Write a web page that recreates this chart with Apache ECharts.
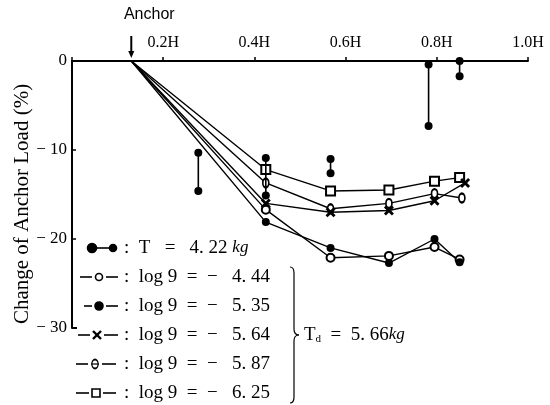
<!DOCTYPE html>
<html><head><meta charset="utf-8">
<script src="https://cdn.jsdelivr.net/npm/echarts@6/dist/echarts.min.js"></script>
<style>html,body{margin:0;padding:0;background:#fff}#c{width:550px;height:405px}</style>
</head><body><div id="c"></div>
<script>
// ---- data ----
const anchorH = 0.13;
const xTickLabels = ['0.2H', '0.4H', '0.6H', '0.8H', '1.0H'];
const yTickLabels = ['0', '− 10', '− 20', '− 30'];
const colH    = [0.425, 0.567, 0.695, 0.795, 0.85];
const colH564 = [0.425, 0.567, 0.695, 0.795, 0.862];
const colH587 = [0.425, 0.567, 0.695, 0.795, 0.855];
const val444 = [-16.7, -22.1, -21.9, -20.9, -22.3];
const val535 = [-18.1, -21.0, -22.7, -20.0, -22.6];
const val564 = [-16.0, -17.0, -16.8, -15.7, -13.7];
const val587 = [-13.7, -16.6, -16.0, -14.9, -15.4];
const val625 = [-12.2, -14.6, -14.5, -13.5, -13.1];
const tH      = [0.277, 0.425, 0.567, 0.782, 0.85];
const tTop    = [-10.3, -10.9, -11.0, -0.4, 0];
const tBottom = [-14.6, -15.1, -12.6, -7.3, -1.7];
const tValue = '4.22';
const tdValue = '5.66';
const logValues = ['4.44', '5.35', '5.64', '5.87', '6.25'];
const yTitle = 'Change of Anchor Load (%)';

// ---- chart ----
const SERIF = '"Liberation Serif","DejaVu Serif",serif';
const X_PATH = 'path://M0,2L2,0L5,3L8,0L10,2L7,5L10,8L8,10L5,7L2,10L0,8L3,5Z';
const chart = echarts.init(document.getElementById('c'), null, {renderer: 'canvas'});

function curve(xs, vs) {
  return [{value: [anchorH, 0], symbol: 'none'}].concat(xs.map((x, i) => [x, vs[i]]));
}
function lineSeries(xs, vs, symbol, size) {
  return {
    type: 'line', data: curve(xs, vs), symbol: symbol, symbolSize: size,
    showAllSymbol: true, silent: true, z: 3,
    lineStyle: {color: '#000', width: 1.4},
    itemStyle: {color: '#000', borderWidth: 1.6}
  };
}
const series = [
  lineSeries(colH, val625, 'emptyRect', 9),
  lineSeries(colH587, val587, 'emptyCircle', [6, 9]),
  lineSeries(colH564, val564, X_PATH, 10),
  lineSeries(colH, val444, 'emptyCircle', 8),
  lineSeries(colH, val535, 'circle', 8)
];
tH.forEach((x, i) => {
  series.push({
    type: 'line', data: [[x, tTop[i]], [x, tBottom[i]]], symbol: 'circle', symbolSize: 8,
    silent: true, z: 4,
    lineStyle: {color: '#000', width: 1.6}, itemStyle: {color: '#000'}
  });
});

chart.setOption({
  animation: false,
  backgroundColor: '#fff',
  grid: {left: 72, right: 22, top: 61, bottom: 77},
  xAxis: {
    type: 'value', position: 'top', min: 0, max: 1.0, interval: 0.2,
    axisLine: {lineStyle: {color: '#000', width: 1.8}},
    axisTick: {show: true, length: 4, lineStyle: {color: '#000', width: 1.5}},
    axisLabel: {
      margin: 10, color: '#000', fontFamily: SERIF, fontSize: 16,
      formatter: v => { const k = Math.round(v / 0.2); return k === 0 ? '' : xTickLabels[k - 1]; }
    },
    splitLine: {show: false}
  },
  yAxis: {
    type: 'value', min: -30, max: 0, interval: 10,
    axisLine: {lineStyle: {color: '#000', width: 2}},
    axisTick: {show: true, inside: true, length: 4, lineStyle: {color: '#000', width: 1.5}},
    axisLabel: {
      margin: 5, color: '#000', fontFamily: SERIF, fontSize: 17,
      formatter: v => yTickLabels[Math.round(-v / 10)]
    },
    splitLine: {show: false}
  },
  series: series
});

// ---- annotations ----
const ap = chart.convertToPixel({gridIndex: 0}, [anchorH, 0]);
const rows = [248, 277, 306, 335, 364, 393];
const g = [];
const K = '#000';
g.push({type: 'text', x: 22, y: 204, rotation: Math.PI / 2, style: {text: yTitle, font: '21px ' + SERIF, fill: K, align: 'center', verticalAlign: 'middle'}});
// anchor label and arrow
g.push({type: 'text', x: ap[0] + 18, y: 15, style: {text: 'Anchor', font: '16px "Liberation Sans",Arial,sans-serif', fill: K, align: 'center', verticalAlign: 'middle'}});
g.push({type: 'line', shape: {x1: ap[0], y1: 36, x2: ap[0], y2: 55}, style: {stroke: K, lineWidth: 2}});
g.push({type: 'polygon', shape: {points: [[ap[0] - 3, 51], [ap[0] + 3, 51], [ap[0], 58]]}, style: {fill: K}});
// y-axis foot
const bp = chart.convertToPixel({gridIndex: 0}, [0, -30]);
g.push({type: 'line', shape: {x1: bp[0], y1: bp[1], x2: bp[0] + 5, y2: bp[1]}, style: {stroke: K, lineWidth: 2}});

const FONT = '19px ' + SERIF;
function seg(x1, y1, x2, y2, w) { g.push({type: 'line', shape: {x1: x1, y1: y1, x2: x2, y2: y2}, style: {stroke: K, lineWidth: w || 1.6}}); }
function dot(x, y, r, fill) { g.push({type: 'circle', shape: {cx: x, cy: y, r: r}, style: {fill: fill, stroke: K, lineWidth: 1.6}}); }
// row 1 : T
dot(92, rows[0], 4.5, K); seg(96, rows[0], 110, rows[0]); dot(113, rows[0], 3.5, K);
g.push({type: 'text', x: 124, y: rows[0], style: {
  rich: {n: {font: FONT, fill: K}, i: {font: 'italic 17px ' + SERIF, fill: K}},
  text: '{n|:  T   =   ' + tValue.replace('.', '. ') + ' }{i|kg}', verticalAlign: 'middle'}});
// rows 2-6 (dash - marker - dash)
function dashes(x1, xm, x2, y) { seg(x1, y, xm - 7, y); seg(xm + 7, y, x2, y); }
dashes(80, 99, 118, rows[1]); dot(99, rows[1], 3.5, '#fff');
dashes(84, 99, 118, rows[2]); dot(99, rows[2], 4, K);
dashes(78, 97, 118, rows[3]);
seg(93, rows[3] - 4, 101, rows[3] + 4, 2.4); seg(93, rows[3] + 4, 101, rows[3] - 4, 2.4);
dashes(76, 95, 116, rows[4]);
g.push({type: 'circle', shape: {cx: 0, cy: 0, r: 4.5}, x: 95, y: rows[4], scaleX: 0.7, style: {fill: '#fff', stroke: K, lineWidth: 1.8}});
seg(91, rows[4], 99, rows[4], 1.2);
dashes(76, 96, 116, rows[5]);
g.push({type: 'rect', shape: {x: 92, y: rows[5] - 4, width: 8, height: 8}, style: {fill: '#fff', stroke: K, lineWidth: 1.6}});
logValues.forEach((v, i) => {
  g.push({type: 'text', x: 124, y: rows[i + 1], style: {
    text: ':  log 9  =  −   ' + v.replace('.', '. '), font: FONT, fill: K, verticalAlign: 'middle'}});
});
// brace
const bx = 290, bt = rows[1] - 10, bb = rows[5] + 10, bm = rows[3];
const bs = {stroke: K, lineWidth: 1.2, fill: null};
g.push({type: 'bezierCurve', shape: {x1: bx, y1: bt, x2: bx + 4, y2: bt + 6, cpx1: bx + 4, cpy1: bt}, style: bs});
seg(bx + 4, bt + 6, bx + 4, bm - 6, 1.2);
g.push({type: 'bezierCurve', shape: {x1: bx + 4, y1: bm - 6, x2: bx + 9, y2: bm, cpx1: bx + 4, cpy1: bm}, style: bs});
g.push({type: 'bezierCurve', shape: {x1: bx + 9, y1: bm, x2: bx + 4, y2: bm + 6, cpx1: bx + 4, cpy1: bm}, style: bs});
seg(bx + 4, bm + 6, bx + 4, bb - 6, 1.2);
g.push({type: 'bezierCurve', shape: {x1: bx + 4, y1: bb - 6, x2: bx, y2: bb, cpx1: bx + 4, cpy1: bb}, style: bs});
g.push({type: 'text', x: 304, y: bm, style: {
  rich: {n: {font: FONT, fill: K}, s: {font: '11px ' + SERIF, fill: K, padding: [8, 0, 0, 0]}, i: {font: 'italic 17px ' + SERIF, fill: K}},
  text: '{n|T}{s|d}{n|  =  ' + tdValue.replace('.', '. ') + '}{i|kg}', verticalAlign: 'middle'}});

chart.setOption({graphic: {elements: g}});
</script>
</body></html>
